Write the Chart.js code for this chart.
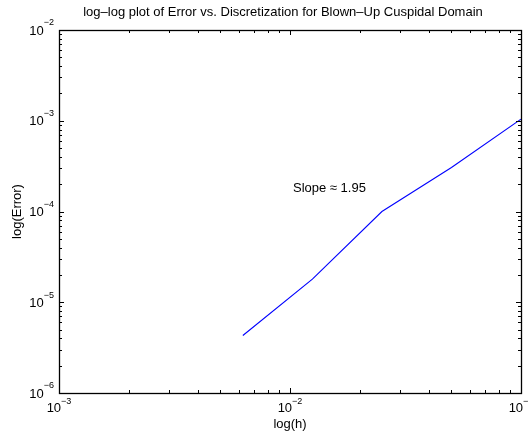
<!DOCTYPE html>
<html>
<head>
<meta charset="utf-8">
<script src="https://cdn.jsdelivr.net/npm/chart.js@4.4.1/dist/chart.umd.min.js"></script>
<style>
  body { margin:0; background:#fff; }
</style>
</head>
<body>
<canvas id="chart" width="528" height="434"></canvas>
<script>
// values
const h = [0.00625, 0.0125, 0.025, 0.05, 0.1];
const errors = [4.3e-6, 1.8e-5, 1.0e-4, 3.05e-4, 1.04e-3];

const xTicks = [1e-3, 1e-2, 1e-1];
const xTickExp = ["\u22123", "\u22122", "\u22121"];
const yTicks = [1e-6, 1e-5, 1e-4, 1e-3, 1e-2];
const yTickExp = ["\u22126", "\u22125", "\u22124", "\u22123", "\u22122"];
const minorMantissas = [2, 3, 4, 5, 6, 7, 8, 9];

const titleText = "log\u2013log plot of Error vs. Discretization for Blown\u2013Up Cuspidal Domain";
const xTitle = "log(h)";
const yTitle = "log(Error)";

const noteX = 0.0103;
const noteY = 1.8e-4;
const noteText = "Slope \u2248 1.95";

const FONT = "Liberation Sans, Arial, Helvetica, sans-serif";

// tick positions: every decade plus 2..9 within it
function tickSet(majors){
    const out = [];
    majors.forEach((m,i)=>{
        out.push({v:m, major:true});
        if(i < majors.length-1){
            minorMantissas.forEach(k=>out.push({v:m*k, major:false}));
        }
    });
    return out;
}

// matlab style box, inward ticks, 10^n labels
const matlabAxes = {
    id: "matlabAxes",
    afterDraw(chart){
        const ctx = chart.ctx;
        const a = chart.chartArea;
        const xs = chart.scales.x;
        const ys = chart.scales.y;

        ctx.save();
        ctx.strokeStyle = "#000";
        ctx.lineWidth = 1;

        ctx.beginPath();
        tickSet(xTicks).forEach(t=>{
            const px = Math.round(xs.getPixelForValue(t.v)) + 0.5;
            const len = t.major ? 5 : 3;
            ctx.moveTo(px, a.bottom); ctx.lineTo(px, a.bottom - len);
            ctx.moveTo(px, a.top); ctx.lineTo(px, a.top + len);
        });
        tickSet(yTicks).forEach(t=>{
            const py = Math.round(ys.getPixelForValue(t.v)) + 0.5;
            const len = t.major ? 5 : 3;
            ctx.moveTo(a.left, py); ctx.lineTo(a.left + len, py);
            ctx.moveTo(a.right, py); ctx.lineTo(a.right - len, py);
        });
        ctx.stroke();

        ctx.lineWidth = 1.3;
        ctx.strokeRect(Math.round(a.left)+0.5, Math.round(a.top)+0.5,
            Math.round(a.right - a.left), Math.round(a.bottom - a.top));

        ctx.fillStyle = "#000";
        ctx.textBaseline = "middle";

        // x tick labels
        xTicks.forEach((v,i)=>{
            const px = xs.getPixelForValue(v);
            ctx.font = "13px " + FONT;
            const wb = ctx.measureText("10").width;
            ctx.font = "9px " + FONT;
            const we = ctx.measureText(xTickExp[i]).width;
            const x0 = px - (wb + we)/2;
            ctx.textAlign = "left";
            ctx.font = "13px " + FONT;
            ctx.fillText("10", x0, a.bottom + 15);
            ctx.font = "9px " + FONT;
            ctx.fillText(xTickExp[i], x0 + wb, a.bottom + 9);
        });

        // y tick labels
        yTicks.forEach((v,i)=>{
            const py = ys.getPixelForValue(v);
            ctx.font = "9px " + FONT;
            const we = ctx.measureText(yTickExp[i]).width;
            const right = a.left - 5;
            ctx.textAlign = "right";
            ctx.fillText(yTickExp[i], right, py - 7);
            ctx.font = "13px " + FONT;
            ctx.fillText("10", right - we, py + 1);
        });

        // titles
        ctx.font = "13px " + FONT;
        ctx.textAlign = "center";
        ctx.fillText(titleText, (a.left + a.right)/2 - 7, 12);
        ctx.fillText(xTitle, (a.left + a.right)/2, a.bottom + 31);

        ctx.save();
        ctx.translate(17, (a.top + a.bottom)/2);
        ctx.rotate(-Math.PI/2);
        ctx.fillText(yTitle, 0, 0);
        ctx.restore();

        // slope note
        ctx.textAlign = "left";
        ctx.fillText(noteText, xs.getPixelForValue(noteX), ys.getPixelForValue(noteY));

        ctx.restore();
    }
};

new Chart(document.getElementById("chart"),{

    type:"scatter",

    data:{
        datasets:[{
            data:h.map((v,i)=>({x:v, y:errors[i]})),
            showLine:true,
            borderColor:"#0000ff",
            borderWidth:1.1,
            pointRadius:0,
            fill:false
        }]
    },

    options:{
        responsive:false,
        animation:false,
        devicePixelRatio:1,
        layout:{
            padding:{top:30, left:0, right:7, bottom:0}
        },
        plugins:{
            legend:{display:false},
            tooltip:{enabled:false},
            title:{display:false}
        },
        scales:{
            x:{
                type:"logarithmic",
                min:1e-3,
                max:1e-1,
                grid:{display:false},
                border:{display:false},
                ticks:{display:false},
                afterFit(scale){ scale.height = 41; }
            },
            y:{
                type:"logarithmic",
                min:1e-6,
                max:1e-2,
                grid:{display:false},
                border:{display:false},
                ticks:{display:false},
                afterFit(scale){ scale.width = 59; }
            }
        }
    },

    plugins:[matlabAxes]

});
</script>
</body>
</html>
